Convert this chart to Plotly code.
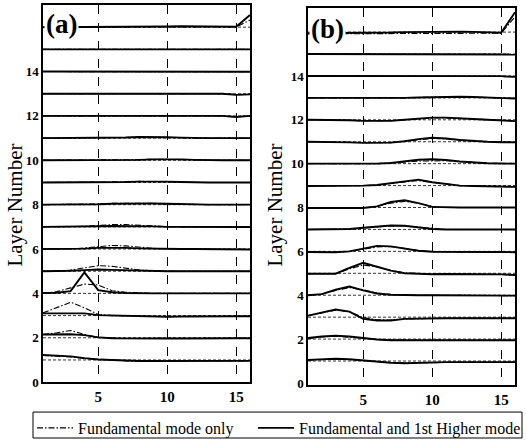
import plotly.graph_objects as go

# ---------------- data (displacement offsets from each layer's baseline) ----------------
X = list(range(1, 17))          # horizontal position (1..16)
LAYERS = list(range(1, 17))     # layer numbers

# Panel (a): fundamental + 1st higher mode (solid)
A_FUND_HIGHER = [
    [0.22, 0.20, 0.16, 0.08, 0.02, 0.00, -0.04, -0.05, -0.05, -0.05, -0.05, -0.05, -0.05, -0.04, -0.04, -0.04],
    [0.15, 0.15, 0.16, 0.12, 0.02, -0.02, -0.03, -0.03, -0.03, -0.03, -0.03, -0.02, -0.02, -0.02, -0.02, -0.02],
    [0.10, 0.10, 0.13, 0.10, 0.02, 0.00, -0.02, -0.04, -0.05, -0.05, -0.04, -0.03, -0.03, -0.03, -0.03, -0.03],
    [0.02, 0.03, 0.10, 0.95, 0.15, 0.05, 0.02, 0.00, 0.00, 0.00, 0.00, 0.00, 0.00, 0.00, 0.00, 0.00],
    [0.00, 0.00, 0.02, 0.05, 0.08, 0.06, 0.04, 0.02, 0.01, 0.00, 0.00, 0.00, 0.00, 0.00, 0.00, 0.00],
    [0.00, 0.00, 0.00, 0.02, 0.05, 0.06, 0.05, 0.03, 0.01, 0.00, 0.00, 0.00, 0.00, 0.00, -0.02, -0.02],
    [0.00, 0.00, 0.00, 0.01, 0.03, 0.04, 0.04, 0.03, 0.02, 0.00, 0.00, -0.01, -0.01, -0.01, -0.01, -0.01],
    [0.00, 0.00, 0.00, 0.00, 0.02, 0.04, 0.05, 0.05, 0.05, 0.04, 0.02, 0.00, 0.00, 0.00, 0.00, 0.00],
    [0.00, 0.00, 0.00, 0.00, 0.00, 0.01, 0.02, 0.04, 0.05, 0.04, 0.02, 0.00, 0.00, 0.00, 0.00, 0.00],
    [0.00, 0.00, 0.00, 0.00, 0.00, 0.00, 0.01, 0.02, 0.04, 0.05, 0.04, 0.02, 0.00, 0.00, 0.00, 0.00],
    [0.00, 0.00, 0.00, 0.00, 0.01, 0.02, 0.03, 0.05, 0.06, 0.04, 0.02, 0.00, 0.00, 0.00, 0.00, 0.00],
    [0.00, 0.00, 0.00, 0.00, 0.00, 0.00, 0.00, 0.01, 0.01, 0.01, 0.00, 0.00, 0.00, 0.00, -0.05, 0.00],
    [0.00, 0.00, 0.00, 0.00, 0.00, 0.00, 0.00, 0.00, 0.00, 0.00, 0.00, 0.00, 0.00, 0.00, -0.05, -0.03],
    [0.00, 0.00, 0.00, 0.00, 0.00, 0.00, 0.00, 0.00, 0.00, 0.00, 0.00, 0.00, 0.00, 0.00, 0.00, -0.01],
    [0.00, 0.00, 0.00, 0.00, 0.00, 0.00, 0.00, 0.00, 0.00, 0.00, 0.00, 0.00, 0.00, 0.00, 0.00, 0.00],
    [0.00, 0.00, 0.00, 0.00, 0.00, 0.00, 0.00, 0.02, 0.03, 0.03, 0.04, 0.04, 0.04, 0.04, 0.02, 0.55],
]

# Panel (a): fundamental mode only (dash-dot)
A_FUND_ONLY = [
    [0.20, 0.18, 0.14, 0.07, 0.02, 0.00, -0.04, -0.05, -0.05, -0.05, -0.05, -0.05, -0.05, -0.04, -0.04, -0.04],
    [0.15, 0.22, 0.33, 0.15, 0.02, -0.02, -0.03, -0.03, -0.03, -0.03, -0.03, -0.02, -0.02, -0.02, -0.02, -0.02],
    [0.12, 0.35, 0.60, 0.35, 0.05, 0.00, -0.02, -0.04, -0.05, -0.05, -0.04, -0.03, -0.03, -0.03, -0.03, -0.03],
    [0.00, 0.08, 0.25, 0.42, 0.38, 0.12, 0.05, 0.02, 0.00, 0.00, 0.00, 0.00, 0.00, 0.00, 0.00, 0.00],
    [0.00, 0.00, 0.05, 0.15, 0.25, 0.22, 0.12, 0.05, 0.02, 0.00, 0.00, 0.00, 0.00, 0.00, 0.00, 0.00],
    [0.00, 0.00, 0.00, 0.05, 0.12, 0.16, 0.14, 0.08, 0.03, 0.01, 0.00, 0.00, 0.00, 0.00, -0.02, -0.02],
    [0.00, 0.00, 0.00, 0.02, 0.06, 0.10, 0.10, 0.06, 0.03, 0.01, 0.00, -0.01, -0.01, -0.01, -0.01, -0.01],
    [0.00, 0.00, 0.00, 0.00, 0.03, 0.06, 0.07, 0.07, 0.06, 0.03, 0.01, 0.00, 0.00, 0.00, 0.00, 0.00],
    [0.00, 0.00, 0.00, 0.00, 0.01, 0.02, 0.03, 0.05, 0.05, 0.04, 0.02, 0.00, 0.00, 0.00, 0.00, 0.00],
    [0.00, 0.00, 0.00, 0.00, 0.00, 0.01, 0.02, 0.03, 0.05, 0.05, 0.04, 0.02, 0.00, 0.00, 0.00, 0.00],
    [0.00, 0.00, 0.00, 0.00, 0.01, 0.02, 0.03, 0.05, 0.05, 0.04, 0.02, 0.00, 0.00, 0.00, 0.00, 0.00],
    [0.00, 0.00, 0.00, 0.00, 0.00, 0.00, 0.00, 0.01, 0.01, 0.01, 0.00, 0.00, 0.00, 0.00, -0.04, 0.00],
    [0.00, 0.00, 0.00, 0.00, 0.00, 0.00, 0.00, 0.00, 0.00, 0.00, 0.00, 0.00, 0.00, 0.00, -0.04, -0.03],
    [0.00, 0.00, 0.00, 0.00, 0.00, 0.00, 0.00, 0.00, 0.00, 0.00, 0.00, 0.00, 0.00, 0.00, 0.00, -0.01],
    [0.00, 0.00, 0.00, 0.00, 0.00, 0.00, 0.00, 0.00, 0.00, 0.00, 0.00, 0.00, 0.00, 0.00, 0.00, 0.00],
    [0.00, 0.00, 0.00, 0.00, 0.00, 0.00, 0.00, 0.01, 0.02, 0.02, 0.03, 0.03, 0.03, 0.03, 0.01, 0.32],
]

# Panel (b): fundamental + 1st higher mode (solid)
B_FUND_HIGHER = [
    [0.05, 0.08, 0.10, 0.08, 0.02, -0.05, -0.08, -0.10, -0.08, -0.05, -0.05, -0.05, -0.05, -0.05, -0.05, -0.05],
    [0.05, 0.12, 0.15, 0.12, 0.05, -0.02, -0.05, -0.05, -0.05, -0.05, -0.05, -0.05, -0.05, -0.05, -0.05, -0.05],
    [0.07, 0.20, 0.35, 0.25, -0.08, -0.15, -0.15, -0.08, -0.06, -0.05, -0.05, -0.05, -0.05, -0.05, -0.05, -0.05],
    [0.00, 0.05, 0.25, 0.40, 0.22, 0.08, 0.02, 0.00, 0.00, 0.00, 0.00, 0.00, 0.00, 0.00, -0.01, -0.02],
    [-0.02, -0.03, -0.02, 0.25, 0.48, 0.30, 0.12, 0.00, -0.03, -0.04, -0.03, -0.03, -0.03, -0.04, -0.05, -0.08],
    [-0.03, -0.04, -0.04, 0.00, 0.12, 0.25, 0.23, 0.12, 0.03, -0.02, -0.03, -0.03, -0.03, -0.03, -0.03, -0.04],
    [0.00, 0.00, 0.00, 0.02, 0.08, 0.13, 0.18, 0.17, 0.10, 0.02, 0.00, 0.00, 0.00, 0.00, 0.00, 0.00],
    [-0.02, -0.02, -0.02, 0.00, -0.02, 0.05, 0.25, 0.33, 0.20, 0.03, 0.00, 0.00, 0.00, 0.00, 0.00, 0.00],
    [-0.02, -0.02, -0.02, -0.02, 0.00, 0.03, 0.10, 0.20, 0.27, 0.15, 0.07, 0.00, -0.02, -0.04, -0.06, -0.06],
    [0.00, 0.00, 0.00, -0.01, -0.02, 0.00, 0.03, 0.10, 0.18, 0.20, 0.17, 0.10, 0.05, 0.02, 0.01, 0.00],
    [0.00, 0.00, -0.01, -0.03, -0.05, -0.06, -0.04, 0.02, 0.12, 0.18, 0.15, 0.08, 0.03, 0.00, -0.02, -0.03],
    [0.00, 0.00, 0.00, -0.02, -0.05, -0.06, -0.05, 0.00, 0.06, 0.10, 0.10, 0.08, 0.04, 0.00, -0.02, -0.06],
    [0.00, 0.00, 0.00, 0.00, 0.00, -0.02, -0.02, 0.00, 0.02, 0.04, 0.05, 0.05, 0.04, 0.02, 0.00, -0.03],
    [0.00, 0.00, 0.00, 0.00, 0.00, 0.00, 0.00, 0.00, 0.00, 0.00, 0.00, 0.00, 0.00, 0.00, -0.01, -0.04],
    [0.00, 0.00, 0.00, 0.00, 0.00, 0.00, 0.00, 0.00, 0.00, 0.00, 0.00, 0.00, 0.00, 0.00, 0.00, -0.02],
    [-0.05, -0.05, -0.05, -0.05, -0.05, -0.04, -0.02, 0.00, 0.01, 0.02, 0.02, 0.02, 0.01, -0.01, -0.03, 0.90],
]

# Panel (b): fundamental mode only (dash-dot)
B_FUND_ONLY = [
    [0.04, 0.07, 0.09, 0.07, 0.02, -0.04, -0.07, -0.09, -0.08, -0.05, -0.05, -0.05, -0.05, -0.05, -0.05, -0.05],
    [0.02, 0.10, 0.13, 0.10, 0.04, -0.02, -0.04, -0.05, -0.05, -0.05, -0.05, -0.05, -0.05, -0.05, -0.05, -0.05],
    [0.07, 0.18, 0.32, 0.25, -0.02, -0.12, -0.13, -0.08, -0.06, -0.05, -0.05, -0.05, -0.05, -0.05, -0.05, -0.05],
    [0.00, 0.05, 0.22, 0.35, 0.25, 0.10, 0.03, 0.00, 0.00, 0.00, 0.00, 0.00, 0.00, 0.00, -0.01, -0.02],
    [-0.02, -0.03, -0.02, 0.20, 0.38, 0.30, 0.14, 0.02, -0.02, -0.03, -0.03, -0.03, -0.03, -0.04, -0.05, -0.07],
    [-0.03, -0.04, -0.04, 0.00, 0.10, 0.20, 0.22, 0.12, 0.04, -0.01, -0.03, -0.03, -0.03, -0.03, -0.03, -0.04],
    [0.00, 0.00, 0.00, 0.02, 0.06, 0.12, 0.16, 0.16, 0.10, 0.03, 0.00, 0.00, 0.00, 0.00, 0.00, 0.00],
    [-0.02, -0.02, -0.02, 0.00, -0.01, 0.05, 0.20, 0.28, 0.20, 0.05, 0.00, 0.00, 0.00, 0.00, 0.00, 0.00],
    [-0.02, -0.02, -0.02, -0.02, 0.00, 0.03, 0.10, 0.18, 0.23, 0.15, 0.07, 0.00, -0.02, -0.04, -0.05, -0.05],
    [0.00, 0.00, 0.00, -0.01, -0.02, 0.00, 0.03, 0.08, 0.12, 0.12, 0.14, 0.10, 0.05, 0.02, 0.01, 0.00],
    [0.00, 0.00, -0.01, -0.03, -0.04, -0.05, -0.04, 0.02, 0.10, 0.15, 0.14, 0.08, 0.03, 0.00, -0.02, -0.03],
    [0.00, 0.00, 0.00, -0.02, -0.04, -0.05, -0.04, 0.00, 0.05, 0.08, 0.09, 0.07, 0.04, 0.00, -0.02, -0.05],
    [0.00, 0.00, 0.00, 0.00, 0.00, -0.02, -0.02, 0.00, 0.02, 0.03, 0.04, 0.04, 0.03, 0.02, 0.00, -0.03],
    [0.00, 0.00, 0.00, 0.00, 0.00, 0.00, 0.00, 0.00, 0.00, 0.00, 0.00, 0.00, 0.00, 0.00, -0.01, -0.03],
    [0.00, 0.00, 0.00, 0.00, 0.00, 0.00, 0.00, 0.00, 0.00, 0.00, 0.00, 0.00, 0.00, 0.00, 0.00, -0.02],
    [-0.08, -0.08, -0.08, -0.08, -0.08, -0.08, -0.07, -0.06, -0.06, -0.06, -0.06, -0.06, -0.06, -0.07, -0.05, 0.70],
]

Y_TICKS = [0, 2, 4, 6, 8, 10, 12, 14]
X_TICKS = [5, 10, 15]
PANEL_LABELS = ["(a)", "(b)"]
LEGEND_NAMES = ["Fundamental mode only", "Fundamental and 1st Higher mode"]
Y_TITLE = "Layer Number"

# ---------------- figure ----------------
W, H = 526, 445
SERIF = "Liberation Serif, Times New Roman, serif"
fig = go.Figure()

panels = [
    ("x", "y", A_FUND_ONLY, A_FUND_HIGHER),
    ("x2", "y2", B_FUND_ONLY, B_FUND_HIGHER),
]

for pi, (xa, ya, fund_only, fund_higher) in enumerate(panels):
    for li, layer in enumerate(LAYERS):
        # dashed baseline for each layer
        fig.add_trace(go.Scatter(
            x=[X[0], X[-1]], y=[layer, layer], xaxis=xa, yaxis=ya,
            mode="lines", line=dict(color="black", width=0.8, dash="3px,2px"),
            showlegend=False, hoverinfo="skip"))
    for li, layer in enumerate(LAYERS):
        show = (pi == 0 and li == 0)
        kw = dict(legendwidth=170) if show else {}
        fig.add_trace(go.Scatter(
            x=X, y=[layer + v for v in fund_only[li]], xaxis=xa, yaxis=ya,
            mode="lines", line=dict(color="black", width=1.1, dash="6px,2px,1.5px,2px"),
            name=LEGEND_NAMES[0], legendgroup="f", showlegend=show, **kw))
    for li, layer in enumerate(LAYERS):
        fig.add_trace(go.Scatter(
            x=X, y=[layer + v for v in fund_higher[li]], xaxis=xa, yaxis=ya,
            mode="lines", line=dict(color="black", width=1.9),
            name=LEGEND_NAMES[1], legendgroup="h", showlegend=(pi == 0 and li == 0)))

def xax(domain, anchor):
    return dict(domain=domain, anchor=anchor, range=[1, 16], tickvals=X_TICKS, ticks="",
                showgrid=True, gridcolor="black", griddash="dash", gridwidth=1,
                showline=True, mirror=True, linecolor="black", linewidth=1.5,
                zeroline=False, automargin=False,
                tickfont=dict(family=SERIF, size=15, color="black", weight="bold"))

def yax(domain, rng, anchor):
    return dict(domain=domain, anchor=anchor, range=rng, tickvals=Y_TICKS, ticks="",
                showgrid=False, showline=True, mirror=True, linecolor="black", linewidth=1.5,
                zeroline=False, automargin=False,
                tickfont=dict(family=SERIF, size=13, color="black", weight="bold"))

fig.update_layout(
    width=W, height=H,
    margin=dict(l=0, r=0, t=0, b=0),
    paper_bgcolor="white", plot_bgcolor="white",
    xaxis=xax([43 / W, 250 / W], "y"),
    xaxis2=xax([308 / W, 515 / W], "y2"),
    yaxis=yax([(H - 383) / H, (H - 5) / H], [0, 17], "x"),
    yaxis2=yax([(H - 386) / H, (H - 8) / H], [-0.1, 17.1], "x2"),
    showlegend=True,
    legend=dict(orientation="h", x=34 / W, xanchor="left", y=(H - 412) / H, yanchor="top",
                borderwidth=0, bgcolor="rgba(0,0,0,0)",
                font=dict(family=SERIF, size=16, color="black"),
                itemwidth=36, tracegroupgap=0),
)

# legend frame
fig.add_shape(type="rect", xref="paper", yref="paper",
              x0=33 / W, x1=522 / W, y0=(H - 439) / H, y1=(H - 413) / H,
              line=dict(color="black", width=1), layer="below")

# y-axis titles
for cx in (15, 275):
    fig.add_annotation(text=Y_TITLE, xref="paper", yref="paper", x=cx / W, y=(H - 206) / H,
                       textangle=-90, showarrow=False, xanchor="center", yanchor="middle",
                       font=dict(family=SERIF, size=21, color="black"))

# panel labels
fig.add_annotation(text="<b>" + PANEL_LABELS[0] + "</b>", xref="x", yref="paper", x=1, y=(H - 7) / H,
                   xanchor="left", yanchor="top", showarrow=False, bgcolor="white",
                   font=dict(family=SERIF, size=27, color="black"), xshift=1)
fig.add_annotation(text="<b>" + PANEL_LABELS[1] + "</b>", xref="x2", yref="paper", x=1, y=(H - 12) / H,
                   xanchor="left", yanchor="top", showarrow=False, bgcolor="white",
                   font=dict(family=SERIF, size=27, color="black"), xshift=1)

fig.write_html("out.html")
